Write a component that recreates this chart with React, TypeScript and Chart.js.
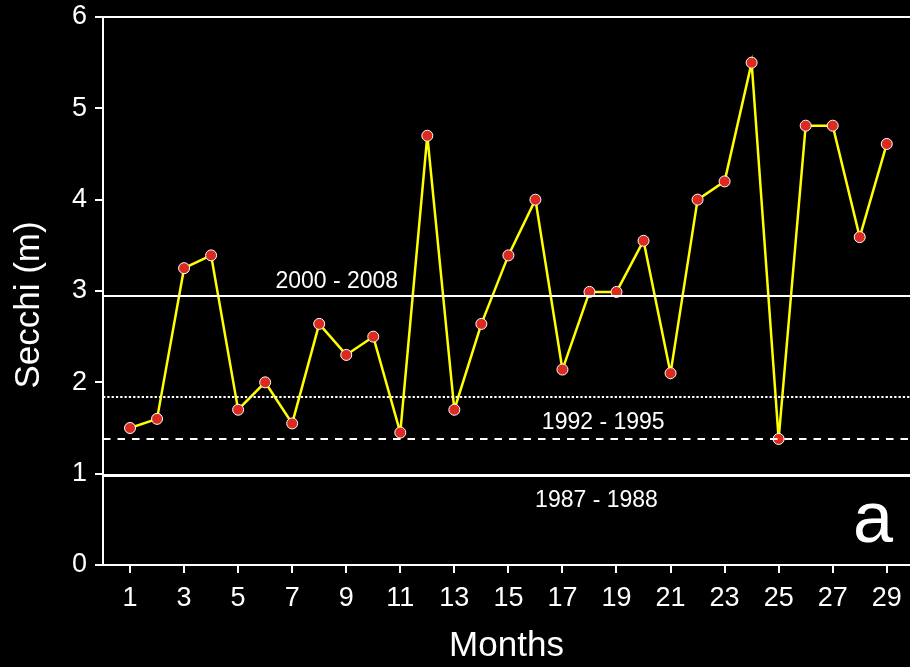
import { useEffect, useRef } from "react";
import { Chart, registerables } from "chart.js";

Chart.register(...registerables);

// ---- data ----
const months = [1, 2, 3, 4, 5, 6, 7, 8, 9, 10, 11, 12, 13, 14, 15, 16, 17, 18, 19, 20, 21, 22, 23, 24, 25, 26, 27, 28, 29];
const secchi = [1.5, 1.6, 3.25, 3.39, 1.7, 2.0, 1.55, 2.64, 2.3, 2.5, 1.45, 4.7, 1.7, 2.64, 3.39, 4.0, 2.14, 2.99, 2.99, 3.55, 2.1, 4.0, 4.2, 5.5, 1.38, 4.81, 4.81, 3.59, 4.61];
const xTickValues = [1, 3, 5, 7, 9, 11, 13, 15, 17, 19, 21, 23, 25, 27, 29];
const xTickLabels = ["1", "3", "5", "7", "9", "11", "13", "15", "17", "19", "21", "23", "25", "27", "29"];
const yTickLabels = ["0", "1", "2", "3", "4", "5", "6"];

// reference levels (m)
const refLevels = [2.95, 1.84, 1.38, 0.99];
const periodLabels = ["2000 - 2008", "1992 - 1995", "1987 - 1988"];
const panelLetter = "a";
const xTitle = "Months";
const yTitle = "Secchi (m)";

// ---- styles / placement (not data) ----
const refWidths = [2, 2, 2, 3];
const refDashes: number[][] = [[], [2.3, 2], [7.5, 7], []];
const periodAnchors = [
  { x: 8.65, y: 3.03 },
  { x: 18.51, y: 1.49 },
  { x: 18.26, y: 0.64 },
];
const letterAnchor = { x: 28.49, y: 0.25 };
const FONT = '"Liberation Sans", Arial, Helvetica, sans-serif';

const overlayPlugin = {
  id: "overlay",
  beforeDraw(chart: any) {
    const ctx = chart.ctx;
    ctx.save();
    ctx.fillStyle = "#000";
    ctx.fillRect(0, 0, chart.width, chart.height);
    ctx.restore();
  },
  afterDatasetsDraw(chart: any) {
    const { ctx, chartArea } = chart;
    const xs = chart.scales.x;
    const ys = chart.scales.y;
    refLevels.forEach((v, i) => {
      const lw = refWidths[i];
      let py = Math.round(ys.getPixelForValue(v));
      if (lw % 2 === 1) py += 0.5;
      ctx.save();
      ctx.strokeStyle = "#ffffff";
      ctx.lineWidth = lw;
      ctx.setLineDash(refDashes[i]);
      ctx.beginPath();
      ctx.moveTo(chartArea.left, py);
      ctx.lineTo(chartArea.right, py);
      ctx.stroke();
      ctx.restore();
    });
    ctx.save();
    ctx.fillStyle = "#ffffff";
    ctx.textAlign = "center";
    ctx.textBaseline = "alphabetic";
    ctx.font = `23px ${FONT}`;
    periodLabels.forEach((t, i) => {
      const a = periodAnchors[i];
      ctx.fillText(t, xs.getPixelForValue(a.x), ys.getPixelForValue(a.y));
    });
    ctx.font = `72px ${FONT}`;
    ctx.fillText(panelLetter, xs.getPixelForValue(letterAnchor.x), ys.getPixelForValue(letterAnchor.y));
    ctx.restore();
  },
  afterDraw(chart: any) {
    const { ctx, chartArea } = chart;
    ctx.save();
    ctx.fillStyle = "#ffffff";
    ctx.font = `35px ${FONT}`;
    ctx.textAlign = "center";
    ctx.textBaseline = "middle";
    ctx.translate(29, (chartArea.top + chartArea.bottom) / 2 + 14);
    ctx.rotate(-Math.PI / 2);
    ctx.fillText(yTitle, 0, 0);
    ctx.restore();
  },
};

export default function App() {
  const ref = useRef<HTMLCanvasElement | null>(null);
  useEffect(() => {
    document.body.style.background = "#000";
    const canvas = ref.current!;
    const chart = new Chart(canvas, {
      type: "line",
      data: {
        datasets: [
          {
            data: months.map((m, i) => ({ x: m, y: secchi[i] })),
            borderColor: "#ffff00",
            borderWidth: 2.5,
            pointBackgroundColor: "#dc2a1f",
            pointBorderColor: "#ffffff",
            pointBorderWidth: 1,
            pointRadius: 5.5,
            tension: 0,
          },
        ],
      },
      options: {
        animation: false,
        responsive: false,
        devicePixelRatio: 1,
        layout: { autoPadding: false, padding: { top: 17, right: 0, bottom: 0, left: 0 } },
        plugins: { legend: { display: false }, tooltip: { enabled: false } },
        scales: {
          x: {
            type: "linear",
            min: 0,
            max: 29.86,
            afterFit: (s: any) => {
              s.height = 102;
              s.paddingLeft = 0;
              s.paddingRight = 0;
            },
            afterBuildTicks: (s: any) => {
              s.ticks = xTickValues.map((v) => ({ value: v }));
            },
            ticks: {
              color: "#ffffff",
              font: { family: FONT, size: 27 },
              padding: 9,
              maxRotation: 0,
              autoSkip: false,
              callback: (_v: any, i: number) => xTickLabels[i],
            },
            grid: {
              drawOnChartArea: false,
              drawTicks: true,
              tickLength: 8,
              tickColor: "#ffffff",
              tickWidth: 2,
              lineWidth: 2,
              color: "#ffffff",
            },
            border: { display: true, color: "#ffffff", width: 2 },
            title: {
              display: true,
              text: xTitle,
              color: "#ffffff",
              font: { family: FONT, size: 35 },
              padding: { top: 0, bottom: 0 },
            },
          },
          y: {
            type: "linear",
            min: 0,
            max: 6,
            afterFit: (s: any) => {
              s.width = 103;
              s.paddingTop = 0;
              s.paddingBottom = 0;
            },
            ticks: {
              stepSize: 1,
              color: "#ffffff",
              font: { family: FONT, size: 27 },
              padding: 8,
              callback: (v: any) => yTickLabels[Math.round(Number(v))],
            },
            grid: {
              drawOnChartArea: true,
              drawTicks: true,
              tickLength: 8,
              tickColor: "#ffffff",
              tickWidth: 2,
              lineWidth: 2,
              color: (c: any) => (c.tick && c.tick.value === 6 ? "#ffffff" : "rgba(0,0,0,0)"),
            },
            border: { display: true, color: "#ffffff", width: 2 },
          },
        },
      },
      plugins: [overlayPlugin],
    } as any);
    return () => chart.destroy();
  }, []);
  return (
    <div style={{ position: "fixed", left: 0, top: 0, width: 910, height: 667, background: "#000" }}>
      <canvas ref={ref} width={910} height={667} style={{ display: "block" }} />
    </div>
  );
}
